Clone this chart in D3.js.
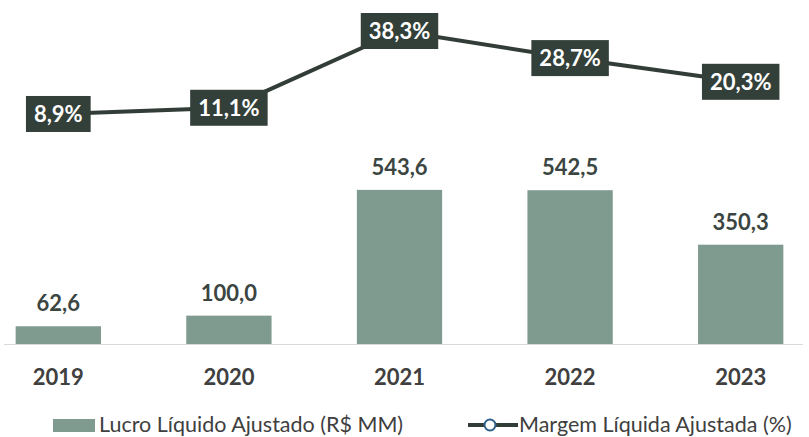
<!DOCTYPE html>
<html>
<head>
<meta charset="utf-8">
<script src="https://cdn.jsdelivr.net/npm/d3@7"></script>
<style>
  body { margin: 0; background: #fff; }
  svg { display: block; font-family: Lato, "Open Sans", sans-serif; }
</style>
</head>
<body>
<div id="chart"></div>
<script>
// Data
const years = ["2019", "2020", "2021", "2022", "2023"];
const lucro = [62.6, 100.0, 543.6, 542.5, 350.3];
const margem = [8.9, 11.1, 38.3, 28.7, 20.3];
const legendLabels = ["Lucro Líquido Ajustado (R$ MM)", "Margem Líquida Ajustada (%)"];

const width = 809, height = 437;
const fmt = v => v.toFixed(1).replace(".", ",");

const svg = d3.select("#chart").append("svg")
    .attr("width", width)
    .attr("height", height);

// Scales
const x = d3.scaleBand()
    .domain(years)
    .range([-27, 826])
    .paddingInner(0.5)
    .paddingOuter(0.25);

const baseY = 344;
const y = d3.scaleLinear().domain([0, 600]).range([baseY, baseY - 600 * 0.2835]);
const yLine = d3.scaleLinear().domain([0, 40]).range([139.1, 26.2]);

const cx = d => x(d) + x.bandwidth() / 2;

// Bars
svg.selectAll(".bar")
    .data(years)
  .enter().append("rect")
    .attr("class", "bar")
    .attr("x", d => x(d))
    .attr("width", x.bandwidth())
    .attr("y", (d, i) => y(lucro[i]))
    .attr("height", (d, i) => y(0) - y(lucro[i]))
    .style("fill", "#7f9a8e");

// Baseline
svg.append("line")
    .attr("x1", 4).attr("x2", 803)
    .attr("y1", baseY + 0.5).attr("y2", baseY + 0.5)
    .style("stroke", "#d9d9d9")
    .style("stroke-width", 1.2);

// Bar value labels
svg.selectAll(".bar-label")
    .data(years)
  .enter().append("text")
    .attr("class", "bar-label")
    .attr("x", d => cx(d))
    .attr("y", (d, i) => y(lucro[i]) - 15)
    .style("text-anchor", "middle")
    .style("font-size", "22px")
    .style("font-weight", "bold")
    .style("fill", "#3b4541")
    .text((d, i) => fmt(lucro[i]));

// X axis labels
const xAxis = d3.axisBottom(x).tickSize(0).tickPadding(0);
const gx = svg.append("g")
    .attr("transform", `translate(0,${baseY})`)
    .call(xAxis);
gx.select(".domain").remove();
gx.selectAll("text")
    .attr("y", 41)
    .attr("dy", 0)
    .style("font-family", "Lato, 'Open Sans', sans-serif")
    .style("font-size", "22px")
    .style("font-weight", "bold")
    .style("fill", "#404040");

// Margin line
const line = d3.line()
    .x(d => cx(d.year))
    .y(d => yLine(d.v));
const lineData = years.map((yr, i) => ({ year: yr, v: margem[i] }));

svg.append("path")
    .datum(lineData)
    .attr("d", line)
    .style("fill", "none")
    .style("stroke", "#333d38")
    .style("stroke-width", 4);

// Line labels (dark boxes)
const lbl = svg.selectAll(".line-label")
    .data(lineData)
  .enter().append("g")
    .attr("class", "line-label")
    .attr("transform", d => `translate(${cx(d.year)},${yLine(d.v)})`);

lbl.append("text")
    .attr("y", 8)
    .style("text-anchor", "middle")
    .style("font-size", "22px")
    .style("font-weight", "bold")
    .style("fill", "#fff")
    .text(d => fmt(d.v) + "%");

lbl.each(function() {
  const g = d3.select(this);
  const bb = g.select("text").node().getBBox();
  g.insert("rect", "text")
    .attr("x", bb.x - 8)
    .attr("width", bb.width + 16)
    .attr("y", -18)
    .attr("height", 36)
    .style("fill", "#334039");
});

// Legend
const leg = svg.append("g").style("font-size", "21.5px").style("fill", "#404040");

leg.append("rect")
    .attr("x", 53).attr("y", 419)
    .attr("width", 42).attr("height", 13)
    .style("fill", "#7f9a8e");
leg.append("text")
    .attr("x", 99).attr("y", 432)
    .text(legendLabels[0]);

leg.append("line")
    .attr("x1", 468).attr("x2", 518)
    .attr("y1", 425).attr("y2", 425)
    .style("stroke", "#333d38")
    .style("stroke-width", 4);
leg.append("circle")
    .attr("cx", 490).attr("cy", 425).attr("r", 5.5)
    .style("fill", "#fff")
    .style("stroke", "#2e5f8a")
    .style("stroke-width", 2);
leg.append("text")
    .attr("x", 519).attr("y", 432)
    .text(legendLabels[1]);
</script>
</body>
</html>
